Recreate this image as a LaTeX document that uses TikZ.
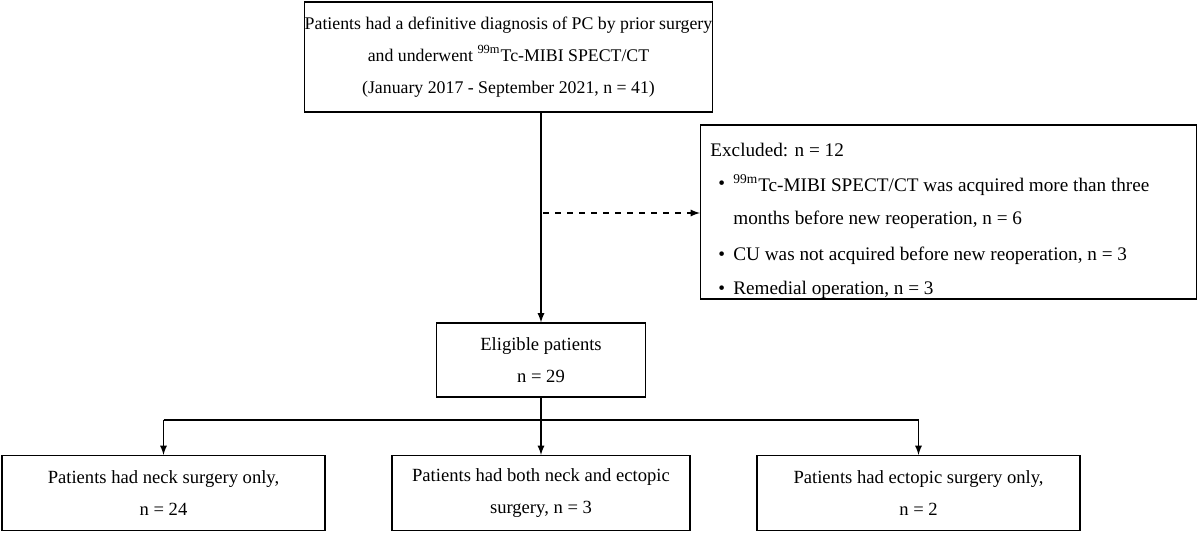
\documentclass[tikz,border=0pt]{standalone}
\usepackage{fontspec}
\setmainfont{Liberation Serif}
\begin{document}
\begin{tikzpicture}[x=0.5pt,y=-0.5pt,
  box/.style={draw,line width=0.6pt,inner sep=0pt,align=center,font=\fontsize{9.3}{16}\selectfont},
  txt/.style={inner sep=0pt,anchor=west,font=\fontsize{9.6}{11}\selectfont},
  arr/.style={-latex,line width=0.6pt}]
\useasboundingbox (0,0) rectangle (1200,533);
\node[box,minimum width=201.5pt,minimum height=55pt,font=\fontsize{8.9}{16}\selectfont] (top) at (508.5,57) {Patients had a definitive diagnosis of PC by prior surgery\\and underwent \textsuperscript{99m}Tc-MIBI SPECT/CT\\(January 2017 - September 2021, n = 41)};
\node[box,minimum width=248pt,minimum height=87pt] (exc) at (948.5,212) {};
\node[txt] (e0) at (710,150) {Excluded: n = 12};
\node[txt] (b1) at (718,185) {•};
\node[txt] (e1) at (733,185) {\textsuperscript{99m}Tc-MIBI SPECT/CT was acquired more than three};
\node[txt] (e1b) at (733,220) {months before new reoperation, n = 6};
\node[txt] (b2) at (718,256) {•};
\node[txt] (e2) at (733,256) {CU was not acquired before new reoperation, n = 3};
\node[txt] (b3) at (718,290) {•};
\node[txt] (e3) at (733,290) {Remedial operation, n = 3};
\node[box,minimum width=104.5pt,minimum height=37pt] (elig) at (541,360) {Eligible patients\\n = 29};
\node[box,minimum width=161.5pt,minimum height=37.5pt] (l) at (163.5,493) {Patients had neck surgery only,\\n = 24};
\node[box,minimum width=149pt,minimum height=37.5pt] (m) at (541,493) {Patients had both neck and ectopic\\surgery, n = 3};
\node[box,minimum width=161.5pt,minimum height=37.5pt] (r) at (918.5,493) {Patients had ectopic surgery only,\\n = 2};
\draw[arr] (top.south -| elig.north) -- (elig.north);
\coordinate (d0) at (543,213);
\draw[arr,dashed] (d0) -- (d0 -| exc.west);
\coordinate (h) at (541,420);
\draw[line width=0.6pt] (elig.south) -- (h);
\draw[arr] (h -| l.north) -- (l.north);
\draw[arr] (h) -- (m.north);
\draw[arr] (h -| r.north) -- (r.north);
\draw[line width=0.6pt] (h -| l.north) -- (h -| r.north);
\end{tikzpicture}
\end{document}
